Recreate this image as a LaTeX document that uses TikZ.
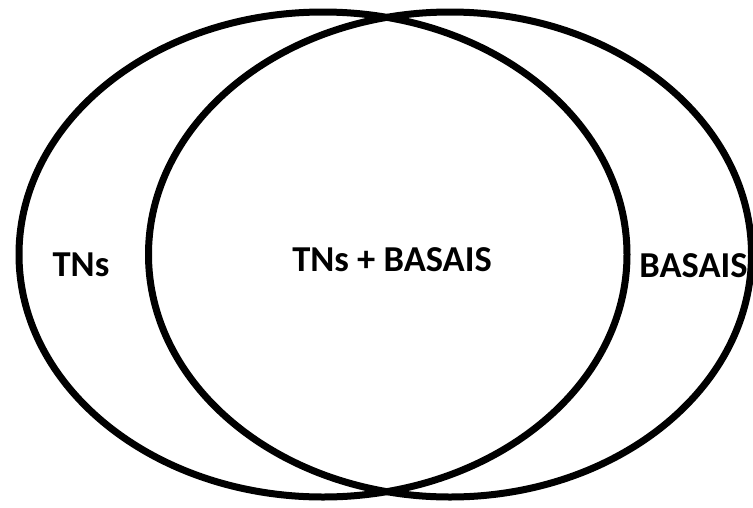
\documentclass[tikz,border=0pt]{standalone}
\usepackage{fontspec}
\setmainfont{Carlito}
\usetikzlibrary{positioning,shapes.geometric}

\begin{document}
\begin{tikzpicture}[
    x=1pt, y=-1pt,
    setring/.style={draw=black, line width=7pt, ellipse, minimum height=485pt, inner sep=0pt},
    setlabel/.style={font=\fontsize{36.5}{40}\selectfont\bfseries, align=center, inner sep=0pt}
]
\useasboundingbox (0,0) rectangle (753,507);
% sets
\node[setring, minimum width=608pt] (tns) at (323,254.5) {};
\node[setring, minimum width=603pt] (basais) at (450,254.5) {};

% labels
\node[setlabel] (ltns) at (81,265) {TNs};
\node[setlabel] (lboth) at (392,260) {TNs + BASAIS};
\node[setlabel] (lbasais) at (693.5,266) {BASAIS};
\end{tikzpicture}
\end{document}
